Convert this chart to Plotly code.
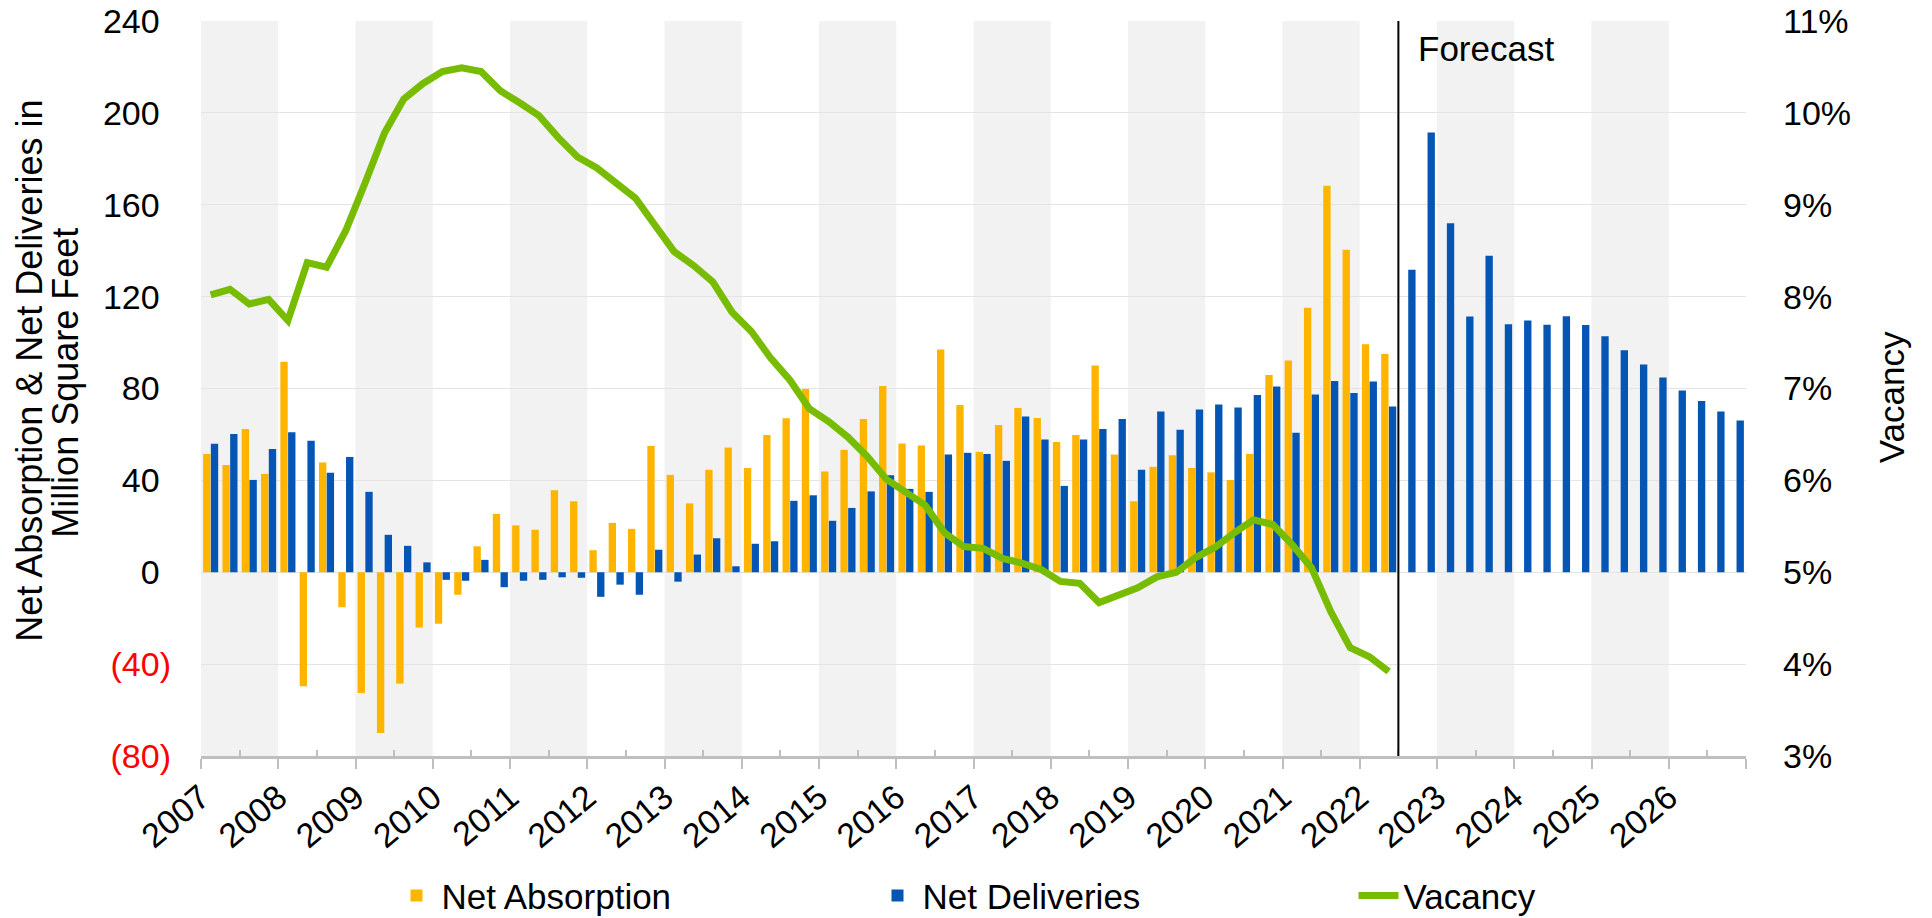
import plotly.graph_objects as go

# ---------------- data ----------------
years = list(range(2007, 2027))          # year tick labels
start_year = 2007
last_actual_quarter = 62                # 2022 Q2

net_absorption = [
    51.5, 46.7, 62.4, 42.8,
    91.7, -49.6, 47.8, -15.2,
    -52.6, -70.0, -48.5, -24.1,
    -22.4, -9.8, 11.3, 25.4,
    20.4, 18.5, 35.7, 30.9,
    9.6, 21.5, 18.9, 55.0,
    42.4, 30.0, 44.6, 54.3,
    45.4, 59.8, 67.0, 79.8,
    43.9, 53.3, 66.7, 81.1,
    56.1, 55.2, 97.0, 72.8,
    52.4, 64.1, 71.5, 67.2,
    56.7, 59.8, 90.0, 51.3,
    30.9, 45.9, 50.9, 45.4,
    43.5, 40.2, 51.5, 85.9,
    92.2, 115.2, 168.3, 140.4,
    99.3, 95.0,
]

net_deliveries = [
    55.9, 60.2, 40.2, 53.7,
    60.9, 57.2, 43.3, 50.2,
    35.0, 16.3, 11.5, 4.3,
    -3.3, -3.7, 5.4, -6.5,
    -3.7, -3.3, -2.2, -2.4,
    -10.7, -5.4, -9.8, 9.8,
    -4.1, 7.7, 14.8, 2.6,
    12.4, 13.5, 31.1, 33.5,
    22.4, 28.0, 35.2, 42.2,
    36.3, 35.0, 51.3, 52.0,
    51.5, 48.5, 67.8, 57.8,
    37.6, 57.8, 62.4, 66.7,
    44.6, 70.0, 62.0, 70.9,
    73.0, 71.7, 77.2, 80.9,
    60.7, 77.4, 83.3, 78.0,
    83.0, 72.2, 131.7, 191.5,
    152.0, 111.3, 137.8, 108.0,
    109.6, 107.8, 111.5, 107.6,
    102.8, 96.7, 90.4, 84.8,
    79.1, 74.6, 70.0, 66.1,
]

vacancy = [
    8.02, 8.08, 7.92, 7.97, 7.74, 8.37, 8.32, 8.72,
    9.24, 9.78, 10.15, 10.32, 10.45, 10.49, 10.45, 10.24,
    10.11, 9.97, 9.73, 9.52, 9.40, 9.24, 9.07, 8.78,
    8.49, 8.34, 8.16, 7.83, 7.62, 7.33, 7.09, 6.78,
    6.64, 6.47, 6.26, 6.01, 5.87, 5.73, 5.43, 5.28,
    5.26, 5.15, 5.10, 5.03, 4.90, 4.88, 4.67, 4.76,
    4.83, 4.95, 5.00, 5.16, 5.27, 5.43, 5.57, 5.52,
    5.30, 5.05, 4.57, 4.18, 4.08, 3.92,
]

left_ticks = [-80, -40, 0, 40, 80, 120, 160, 200, 240]
right_ticks = [3, 4, 5, 6, 7, 8, 9, 10, 11]

left_title_lines = ["Net Absorption & Net Deliveries in", "Million Square Feet"]
right_title = "Vacancy"
forecast_label = "Forecast"

# ---------------- styling ----------------
ORANGE = "#FFB500"
BLUE = "#0555B5"
GREEN = "#77BC00"
BAND = "#F2F2F2"
AXIS_GRAY = "#BFBFBF"
FONT = "Liberation Sans, Arial, sans-serif"
FS = 34

def qpos(i):
    return start_year + (i + 0.5) / 4.0

x_all = [qpos(i) for i in range(len(net_deliveries))]
x_act = [qpos(i) for i in range(len(net_absorption))]
forecast_x = start_year + last_actual_quarter / 4.0

fig = go.Figure()
fig.add_trace(go.Bar(x=x_act, y=net_absorption, name="Net Absorption",
                     marker=dict(color=ORANGE, line=dict(width=0)),
                     offsetgroup="a"))
fig.add_trace(go.Bar(x=x_all, y=net_deliveries, name="Net Deliveries",
                     marker=dict(color=BLUE, line=dict(width=0)),
                     offsetgroup="b"))
fig.add_trace(go.Scatter(x=x_act, y=vacancy, name="Vacancy", yaxis="y2",
                         mode="lines", line=dict(color=GREEN, width=7)))

shapes = []
for y in years:
    if (y - start_year) % 2 == 0:
        shapes.append(dict(type="rect", xref="x", yref="y domain",
                           x0=y, x1=y + 1, y0=0, y1=1,
                           fillcolor=BAND, line=dict(width=0), layer="below"))
shapes.append(dict(type="line", xref="x", yref="y domain",
                   x0=forecast_x, x1=forecast_x, y0=0, y1=1,
                   line=dict(color="black", width=2), layer="above"))

def fmt_left(v):
    # accounting style: negatives in red parentheses, positives padded by an
    # invisible ")" so the digits line up as in the original
    if v < 0:
        return '<span style="color:#FF0000">(%d)</span>' % (-v)
    return '%d<span style="color:#FFFFFF">)</span>' % v

major_x = years + [years[-1] + 1]

annotations = [
    dict(x=forecast_x, y=0.963, xref="x", yref="y domain",
         text=forecast_label, showarrow=False, xanchor="left",
         yanchor="middle", xshift=18, font=dict(size=35)),
    dict(x=-0.1107, y=0.524, xref="paper", yref="paper",
         text=left_title_lines[0], textangle=-90, showarrow=False,
         xanchor="center", yanchor="middle", font=dict(size=36)),
    dict(x=-0.0877, y=0.507, xref="paper", yref="paper",
         text=left_title_lines[1], textangle=-90, showarrow=False,
         xanchor="center", yanchor="middle", font=dict(size=36)),
    dict(x=1.0938, y=0.488, xref="paper", yref="paper",
         text=right_title, textangle=-90, showarrow=False,
         xanchor="center", yanchor="middle", font=dict(size=35)),
]

fig.update_layout(
    width=1932, height=918,
    margin=dict(l=201, r=186, t=21, b=162, autoexpand=False),
    paper_bgcolor="white", plot_bgcolor="white",
    font=dict(family=FONT, size=FS, color="black"),
    barmode="group", bargap=0.2, bargroupgap=0.05,
    shapes=shapes,
    annotations=annotations,
    xaxis=dict(range=[start_year, years[-1] + 1], tickmode="array",
               tickvals=major_x, ticktext=[str(y) for y in years] + [""],
               tickangle=-40, ticks="outside", ticklen=10, tickwidth=2,
               tickcolor=AXIS_GRAY, showline=True, linecolor=AXIS_GRAY,
               linewidth=3, showgrid=False, zeroline=False,
               ticklabelstandoff=-5, tickfont=dict(size=34),
               minor=dict(tickmode="array",
                          tickvals=[y + 0.5 for y in years],
                          ticks="inside", ticklen=6, tickwidth=2,
                          tickcolor=AXIS_GRAY, showgrid=False)),
    xaxis2=dict(range=[start_year, years[-1] + 1], overlaying="x",
                side="bottom", anchor="y", tickmode="array",
                tickvals=major_x, ticktext=[""] * len(major_x),
                ticks="inside", ticklen=11, tickwidth=2, tickcolor=AXIS_GRAY,
                showline=False, showgrid=False, zeroline=False,
                showticklabels=False),
    yaxis=dict(range=[-80, 240], tickmode="array", tickvals=left_ticks,
               ticktext=[fmt_left(v) for v in left_ticks],
               showgrid=True, gridcolor="#E4E4E4", gridwidth=1,
               zeroline=False, ticks="", ticklabelstandoff=29,
               ticklabeloverflow="allow", tickfont=dict(size=FS)),
    yaxis2=dict(range=[3, 11], overlaying="y", side="right",
                tickmode="array", tickvals=right_ticks,
                ticktext=["%d%%" % v for v in right_ticks],
                showgrid=False, zeroline=False, ticks="",
                ticklabelstandoff=36, ticklabeloverflow="allow",
                tickfont=dict(size=FS)),
    legend=dict(orientation="h", x=0.1233, xanchor="left", y=-0.19,
                yanchor="middle", font=dict(size=35),
                entrywidth=426, itemwidth=40, traceorder="normal",
                bgcolor="rgba(0,0,0,0)"),
    showlegend=True,
)

# remove the browser's default 8px body margin so the figure fills the window
fig.write_html("out.html",
               config={"displayModeBar": False},
               post_script="document.body.style.margin='0px';")
